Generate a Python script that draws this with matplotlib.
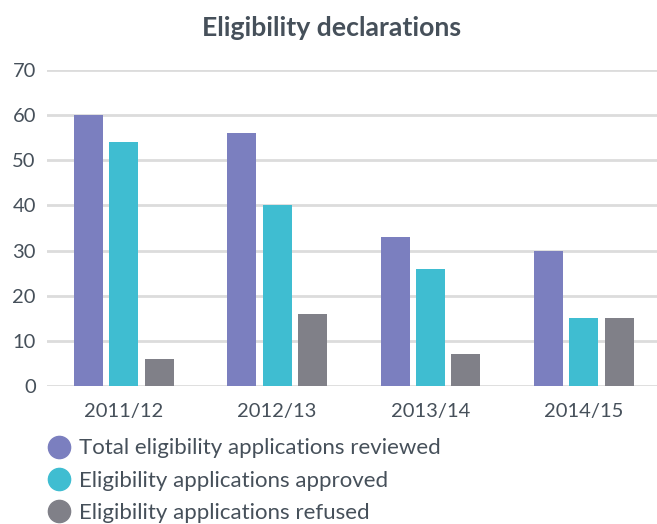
import matplotlib
matplotlib.use("Agg")
import matplotlib.pyplot as plt
from matplotlib.lines import Line2D
import numpy as np

categories = ["2011/12", "2012/13", "2013/14", "2014/15"]
series_names = ["Total eligibility applications reviewed",
                "Eligibility applications approved",
                "Eligibility applications refused"]
reviewed = [60, 56, 33, 30]
approved = [54, 40, 26, 15]
refused = [6, 16, 7, 15]
y_ticks = [0, 10, 20, 30, 40, 50, 60, 70]

colors = ["#7b7fbf", "#3fbdd1", "#808088"]
text_color = "#46505a"
font = ["Lato", "DejaVu Sans"]
plt.rcParams["font.family"] = font

W, H = 657, 524
fig = plt.figure(figsize=(W / 100, H / 100), dpi=100)
ax = fig.add_axes([47 / W, 1 - 386 / H, 1 - 47 / W, (386 - 70) / H])

x = np.arange(len(categories))
bw = 0.189
pitch = 0.231
for i, vals in enumerate([reviewed, approved, refused]):
    ax.bar(x + (i - 1) * pitch, vals, width=bw, color=colors[i], zorder=3)

ax.set_xlim(-0.50, 3.476)
ax.set_ylim(0, 70)
ax.set_yticks(y_ticks)
ax.set_yticklabels([str(t) for t in y_ticks])
ax.set_xticks(x)
ax.set_xticklabels(categories)
ax.yaxis.grid(True, color="#dcdcdc", linewidth=2, zorder=0)
ax.set_axisbelow(True)
for s in ax.spines.values():
    s.set_visible(False)
ax.tick_params(axis="both", length=0, colors=text_color, labelsize=14.5)
ax.tick_params(axis="y", pad=8)
ax.tick_params(axis="x", pad=12)

fig.text(332 / W, 1 - 28 / H, "Eligibility declarations", ha="center", va="center",
         fontsize=19.2, color=text_color, fontweight="bold")

handles = [Line2D([0], [0], marker="o", linestyle="", markersize=16,
                  markerfacecolor=c, markeredgecolor=c) for c in colors]
leg = fig.legend(handles, series_names, loc="upper left",
                 bbox_to_anchor=(48 / W, 1 - 438.5 / H), frameon=False,
                 fontsize=16, labelcolor=text_color, handletextpad=0.4,
                 labelspacing=0.545, handlelength=1.0, borderpad=0, borderaxespad=0)

fig.savefig("out.png", dpi=100)
